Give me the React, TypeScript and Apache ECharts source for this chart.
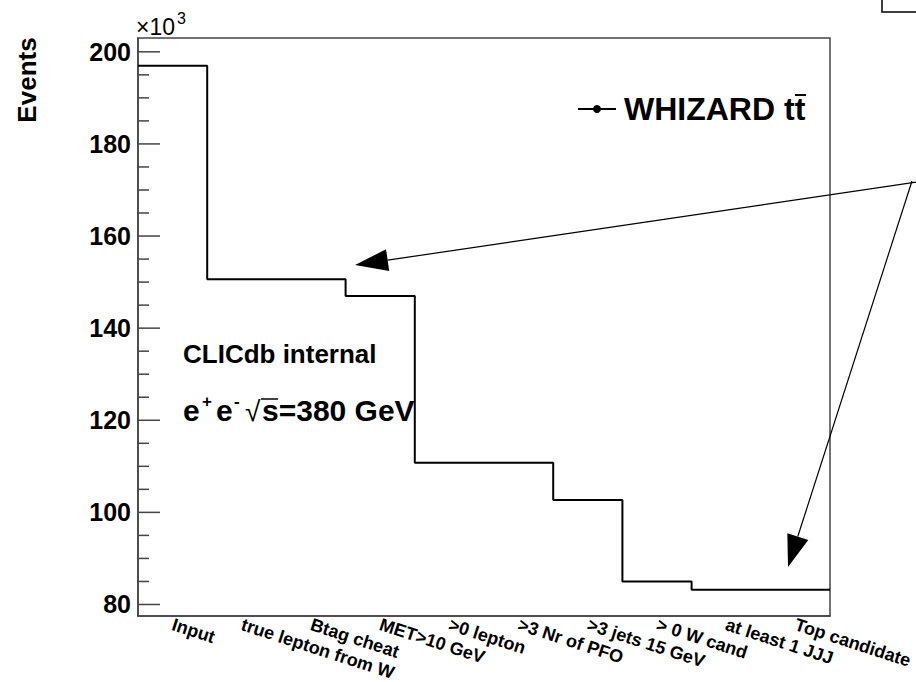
import React, { useEffect, useRef } from 'react';
import * as echarts from 'echarts';

// Cut-flow selection steps and surviving events (in units of 10^3)
const cutLabels = [
  'Input',
  'true lepton from W',
  'Btag cheat',
  'MET>10 GeV',
  '>0 lepton',
  '>3 Nr of PFO',
  '>3 jets 15 GeV',
  '> 0 W cand',
  'at least 1 JJJ',
  'Top candidate',
];
const eventsK = [197.0, 150.6, 150.6, 147.0, 110.8, 110.8, 102.7, 85.0, 83.2, 83.2];

const yMin = 77.5;
const yMax = 203;
const yMajorTicks = [80, 100, 120, 140, 160, 180, 200];
const yMinorTicks = [85, 90, 95, 105, 110, 115, 125, 130, 135, 145, 150, 155, 165, 170, 175, 185, 190, 195];

const FONT = '"Liberation Sans", Arial, Helvetica, sans-serif';
const AXIS_COLOR = '#444';

function arrowHead(tip: [number, number], from: [number, number], len: number, half: number) {
  const dx = from[0] - tip[0];
  const dy = from[1] - tip[1];
  const d = Math.hypot(dx, dy);
  const ux = dx / d;
  const uy = dy / d;
  const bx = tip[0] + ux * len;
  const by = tip[1] + uy * len;
  return {
    base: [bx, by] as [number, number],
    points: [
      tip,
      [bx - uy * half, by + ux * half],
      [bx + uy * half, by - ux * half],
    ],
  };
}

export default function App() {
  const ref = useRef<HTMLDivElement>(null);

  useEffect(() => {
    if (!ref.current) return;
    const chart = echarts.init(ref.current, null, { renderer: 'svg' });

    // histogram outline: one point per bin lower edge plus the final upper edge
    const stepData: number[][] = eventsK.map((v, i) => [i, v]);
    stepData.push([eventsK.length, eventsK[eventsK.length - 1]]);

    // y tick marks drawn inside the frame: [x at axis, value, isMajor]
    const yTickData: number[][] = [
      ...yMajorTicks.map((v) => [0, v, 1]),
      ...yMinorTicks.map((v) => [0, v, 0]),
    ];

    const a1Start: [number, number] = [930, 180];
    const a1Tip: [number, number] = [355, 265];
    const a1 = arrowHead(a1Tip, a1Start, 33, 11);
    const a2Start: [number, number] = [912, 181];
    const a2Tip: [number, number] = [788, 567];
    const a2 = arrowHead(a2Tip, a2Start, 32, 11);

    chart.setOption({
      animation: false,
      backgroundColor: '#fff',
      textStyle: { fontFamily: FONT },
      grid: {
        left: 138,
        right: 86,
        top: 38,
        bottom: 66,
        show: true,
        borderColor: AXIS_COLOR,
        borderWidth: 1.5,
        backgroundColor: 'transparent',
        outerBoundsMode: 'none',
      },
      xAxis: [
        {
          type: 'category',
          data: cutLabels,
          boundaryGap: true,
          axisLine: { lineStyle: { color: AXIS_COLOR, width: 1.5 } },
          axisTick: {
            inside: true,
            length: 16,
            alignWithLabel: false,
            interval: 0,
            lineStyle: { color: AXIS_COLOR, width: 1.5 },
          },
          axisLabel: {
            interval: 0,
            rotate: -18,
            margin: 8,
            color: '#000',
            fontSize: 18,
            fontWeight: 'bold',
            fontFamily: FONT,
          },
          splitLine: { show: false },
        },
        {
          type: 'value',
          min: 0,
          max: cutLabels.length,
          show: false,
        },
      ],
      yAxis: [
        {
          type: 'value',
          min: yMin,
          max: yMax,
          position: 'left',
          axisLine: { show: true, lineStyle: { color: AXIS_COLOR, width: 1.5 } },
          axisTick: { show: false },
          axisLabel: {
            customValues: yMajorTicks,
            margin: 7,
            color: '#000',
            fontSize: 25,
            fontWeight: 'bold',
            fontFamily: FONT,
          },
          splitLine: { show: false },
        },
      ],
      series: [
        {
          type: 'custom',
          xAxisIndex: 1,
          yAxisIndex: 0,
          silent: true,
          clip: false,
          encode: { x: 0, y: 1 },
          data: yTickData,
          renderItem: (_params: any, api: any) => {
            const p = api.coord([api.value(0), api.value(1)]);
            const len = api.value(2) ? 22 : 11;
            return {
              type: 'line',
              shape: { x1: p[0], y1: p[1], x2: p[0] + len, y2: p[1] },
              style: { stroke: AXIS_COLOR, lineWidth: 1.5 },
            };
          },
          z: 2,
        },
        {
          type: 'line',
          name: 'WHIZARD tt',
          xAxisIndex: 1,
          yAxisIndex: 0,
          step: 'end',
          data: stepData,
          showSymbol: false,
          symbol: 'none',
          lineStyle: { color: '#000', width: 2 },
          z: 3,
        },
      ],
      graphic: [
        // axis multiplier
        {
          type: 'text',
          x: 136,
          y: 27,
          style: { text: '×10', fontSize: 23, fontFamily: FONT, fill: '#000', align: 'left', verticalAlign: 'middle' },
        },
        {
          type: 'text',
          x: 177,
          y: 18,
          style: { text: '3', fontSize: 16, fontFamily: FONT, fill: '#000', align: 'left', verticalAlign: 'middle' },
        },
        // y axis title
        {
          type: 'text',
          x: 27,
          y: 80,
          rotation: Math.PI / 2,
          style: {
            text: 'Events',
            fontSize: 26,
            fontWeight: 'bold',
            fontFamily: FONT,
            fill: '#000',
            align: 'center',
            verticalAlign: 'middle',
          },
        },
        // legend entry
        {
          type: 'line',
          shape: { x1: 578, y1: 109, x2: 616, y2: 109 },
          style: { stroke: '#000', lineWidth: 2 },
        },
        {
          type: 'circle',
          shape: { cx: 597, cy: 109, r: 4 },
          style: { fill: '#000' },
        },
        {
          type: 'text',
          x: 624,
          y: 109,
          style: {
            text: 'WHIZARD tt',
            fontSize: 32,
            fontWeight: 'bold',
            fontFamily: FONT,
            fill: '#000',
            align: 'left',
            verticalAlign: 'middle',
          },
        },
        {
          type: 'line',
          shape: { x1: 795, y1: 95, x2: 806, y2: 95 },
          style: { stroke: '#000', lineWidth: 2 },
        },
        // annotations
        {
          type: 'text',
          x: 183,
          y: 354,
          style: {
            text: 'CLICdb internal',
            fontSize: 26,
            fontWeight: 'bold',
            fontFamily: FONT,
            fill: '#000',
            align: 'left',
            verticalAlign: 'middle',
          },
        },
        {
          type: 'text',
          x: 183,
          y: 410,
          style: { text: 'e', fontSize: 30, fontWeight: 'bold', fontFamily: FONT, fill: '#000', align: 'left', verticalAlign: 'middle' },
        },
        {
          type: 'text',
          x: 202,
          y: 401,
          style: { text: '+', fontSize: 17, fontWeight: 'bold', fontFamily: FONT, fill: '#000', align: 'left', verticalAlign: 'middle' },
        },
        {
          type: 'text',
          x: 216,
          y: 410,
          style: { text: 'e', fontSize: 30, fontWeight: 'bold', fontFamily: FONT, fill: '#000', align: 'left', verticalAlign: 'middle' },
        },
        {
          type: 'text',
          x: 234,
          y: 401,
          style: { text: '-', fontSize: 17, fontWeight: 'bold', fontFamily: FONT, fill: '#000', align: 'left', verticalAlign: 'middle' },
        },
        {
          type: 'text',
          x: 245,
          y: 411,
          style: { text: '√', fontSize: 28, fontFamily: FONT, fill: '#000', align: 'left', verticalAlign: 'middle' },
        },
        {
          type: 'line',
          shape: { x1: 261, y1: 399, x2: 278, y2: 399 },
          style: { stroke: '#000', lineWidth: 1.5 },
        },
        {
          type: 'text',
          x: 262,
          y: 410,
          style: {
            text: 's=380 GeV',
            fontSize: 30,
            fontWeight: 'bold',
            fontFamily: FONT,
            fill: '#000',
            align: 'left',
            verticalAlign: 'middle',
          },
        },
        // arrows pointing at the selected cut steps
        {
          type: 'line',
          shape: { x1: a1Start[0], y1: a1Start[1], x2: a1.base[0], y2: a1.base[1] },
          style: { stroke: '#000', lineWidth: 1.2 },
        },
        { type: 'polygon', shape: { points: a1.points }, style: { fill: '#000' } },
        {
          type: 'line',
          shape: { x1: a2Start[0], y1: a2Start[1], x2: a2.base[0], y2: a2.base[1] },
          style: { stroke: '#000', lineWidth: 1.2 },
        },
        { type: 'polygon', shape: { points: a2.points }, style: { fill: '#000' } },
        // neighbouring text box edge
        {
          type: 'rect',
          shape: { x: 882, y: -10, width: 60, height: 22 },
          style: { fill: '#fff', stroke: '#000', lineWidth: 1.5 },
        },
      ],
    });

    return () => chart.dispose();
  }, []);

  return (
    <div
      ref={ref}
      style={{ position: 'absolute', left: 0, top: 0, width: 916, height: 682 }}
    />
  );
}
